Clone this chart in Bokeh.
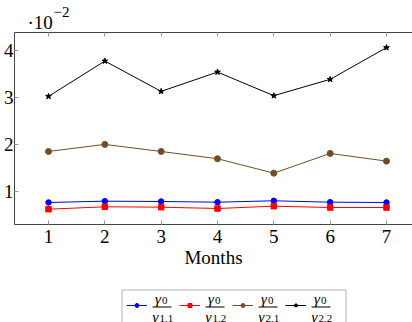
from bokeh.plotting import figure
from bokeh.layouts import column
from bokeh.models import (Range1d, FixedTicker, CustomJSTickFormatter, LinearAxis,
                          Legend, LegendItem, Label, BoxAnnotation)
from bokeh.core.properties import value
from bokeh.embed import file_html
from bokeh.resources import INLINE

# ---- data ----
months = [1, 2, 3, 4, 5, 6, 7]
series_11 = [0.00759, 0.00787, 0.00780, 0.00765, 0.00795, 0.00765, 0.00759]
series_12 = [0.00616, 0.00667, 0.00659, 0.00631, 0.00680, 0.00652, 0.00652]
series_21 = [0.01846, 0.01996, 0.01846, 0.01691, 0.01384, 0.01804, 0.01640]
series_22 = [0.03019, 0.03772, 0.03126, 0.03537, 0.03034, 0.03382, 0.04058]
y_ticks = [0.01, 0.02, 0.03, 0.04]
x_label = "Months"
scale_base = "\u00b710"
scale_exp = "\u22122"
num_symbol = "\u03b3"
num_subs = ["0", "0", "0", "0"]
den_subs = ["1,1", "1,2", "2,1", "2,2"]

FONT = "Liberation Serif"
AXIS_COLOR = "#444444"
TICK_COLOR = "#999999"

TOP_H = 30
LEG_H = 42
MAIN_H = 322 - TOP_H - LEG_H
FRAME_TOP = 32       # page y of the plot frame top
FRAME_BOTTOM = 224   # page y of the plot frame bottom
DY = 4               # baseline correction for screen-unit labels

# ---- strip above the chart: the "x10^-2" scale mark ----
pt = figure(width=412, height=TOP_H, output_backend="svg", toolbar_location=None,
            title=None, x_axis_type=None, y_axis_type=None,
            x_range=Range1d(0, 1), y_range=Range1d(0, 1), min_border=0)
pt.outline_line_color = None


def ty(page_y):
    return TOP_H - (page_y - DY)


pt.add_layout(Label(x=13, y=ty(26), x_units="screen", y_units="screen",
                    text=scale_base, text_font=FONT, text_font_size="19px",
                    text_color="black", text_baseline="alphabetic"))
pt.add_layout(Label(x=39, y=ty(15), x_units="screen", y_units="screen",
                    text=scale_exp, text_font=FONT, text_font_size="15px",
                    text_color="black", text_baseline="alphabetic"))

# ---- main chart ----
p = figure(width=412, height=MAIN_H, output_backend="svg", toolbar_location=None,
           title=None,
           x_range=Range1d(0.3964, 7.462), y_range=Range1d(0.0029, 0.0438),
           min_border_left=14, min_border_right=0,
           min_border_top=FRAME_TOP - TOP_H,
           min_border_bottom=MAIN_H - (FRAME_BOTTOM - TOP_H))
p.outline_line_color = None
p.xgrid.visible = False
p.ygrid.visible = False

xa = p.xaxis[0]
xa.ticker = FixedTicker(ticks=months)
xa.major_label_text_font = FONT
xa.major_label_text_font_size = "19px"
xa.major_label_text_color = "black"
xa.major_label_standoff = 5
xa.axis_label = x_label
xa.axis_label_text_font = FONT
xa.axis_label_text_font_size = "19px"
xa.axis_label_text_font_style = "normal"
xa.axis_label_text_color = "black"
xa.axis_label_standoff = 1
xa.major_tick_in = 4
xa.major_tick_out = 0
xa.major_tick_line_color = TICK_COLOR
xa.minor_tick_line_color = None
xa.axis_line_color = AXIS_COLOR

ya = p.yaxis[0]
ya.ticker = FixedTicker(ticks=y_ticks)
ya.formatter = CustomJSTickFormatter(code="return (tick*100).toFixed(0)")
ya.major_label_text_font = FONT
ya.major_label_text_font_size = "19px"
ya.major_label_text_color = "black"
ya.major_label_standoff = 1
ya.major_tick_in = 4
ya.major_tick_out = 0
ya.major_tick_line_color = TICK_COLOR
ya.minor_tick_line_color = None
ya.axis_line_color = AXIS_COLOR

top_axis = LinearAxis(ticker=FixedTicker(ticks=months),
                      formatter=CustomJSTickFormatter(code="return ''"),
                      major_label_text_font_size="1px", major_label_standoff=0,
                      major_tick_in=4, major_tick_out=0,
                      major_tick_line_color=TICK_COLOR,
                      minor_tick_line_color=None,
                      axis_line_color=AXIS_COLOR)
p.add_layout(top_axis, "above")

styles = [
    (series_11, "#0000ff", "circle", 5.5),
    (series_12, "#ff0000", "square", 5.5),
    (series_21, "#734d26", "circle", 6),
    (series_22, "#000000", "star", 6),
]
for vals, color, marker, size in styles:
    p.line(months, vals, line_color=color, line_width=1)
    p.scatter(months, vals, marker=marker, size=size,
              fill_color=color, line_color=color)

# ---- legend strip below the chart ----
pl = figure(width=412, height=LEG_H, output_backend="svg", toolbar_location=None,
            title=None, x_axis_type=None, y_axis_type=None,
            x_range=Range1d(-3, -2), y_range=Range1d(-3, -2), min_border=0)
pl.outline_line_color = None


def ly(page_y):
    return 322 - page_y


def lty(page_y):
    return 322 - (page_y - DY)


items = []
for vals, color, marker, size in styles:
    lr = pl.line(months, vals, line_color=color, line_width=1)
    sr = pl.scatter(months, vals, marker=marker, size=size,
                    fill_color=color, line_color=color)
    items.append(LegendItem(label=value(" "), renderers=[lr, sr]))

LEG_X = 112
GLYPH_W = 21
STANDOFF = 5
LABEL_W = 19
SPACING = 8
legend = Legend(items=items, location=(LEG_X, ly(310)),
                orientation="horizontal", glyph_width=GLYPH_W, glyph_height=10,
                label_width=LABEL_W, label_height=10, label_standoff=STANDOFF,
                spacing=SPACING, padding=0, margin=0,
                border_line_color=None, background_fill_alpha=0,
                label_text_font_size="1px")
pl.add_layout(legend)

pl.add_layout(BoxAnnotation(left=107.5, right=331.5, top=ly(289.5), bottom=ly(340),
                            left_units="screen", right_units="screen",
                            top_units="screen", bottom_units="screen",
                            fill_alpha=0, line_color="black", line_width=1))

pitch = GLYPH_W + STANDOFF + LABEL_W + SPACING
for i, (ns, ds) in enumerate(zip(num_subs, den_subs)):
    cx = LEG_X + i * pitch + GLYPH_W + STANDOFF + LABEL_W / 2.0
    pl.add_layout(BoxAnnotation(left=cx - 9.5, right=cx + 9.5,
                                top=ly(306), bottom=ly(307),
                                left_units="screen", right_units="screen",
                                top_units="screen", bottom_units="screen",
                                fill_color="black", fill_alpha=1, line_color=None))
    pl.add_layout(Label(x=cx - 7, y=lty(302.5), x_units="screen", y_units="screen",
                        text=num_symbol, text_font=FONT, text_font_size="15px",
                        text_font_style="italic", text_color="black",
                        text_baseline="alphabetic"))
    pl.add_layout(Label(x=cx, y=lty(304), x_units="screen", y_units="screen",
                        text=ns, text_font=FONT, text_font_size="11px",
                        text_color="black", text_baseline="alphabetic"))
    pl.add_layout(Label(x=cx - 9.5, y=lty(320), x_units="screen", y_units="screen",
                        text=num_symbol, text_font=FONT, text_font_size="15px",
                        text_font_style="italic", text_color="black",
                        text_baseline="alphabetic"))
    pl.add_layout(Label(x=cx - 2.5, y=lty(321.5), x_units="screen", y_units="screen",
                        text=ds, text_font=FONT, text_font_size="11px",
                        text_color="black", text_baseline="alphabetic"))

layout = column(pt, p, pl, spacing=0)
open("out.html", "w").write(file_html(layout, INLINE))
